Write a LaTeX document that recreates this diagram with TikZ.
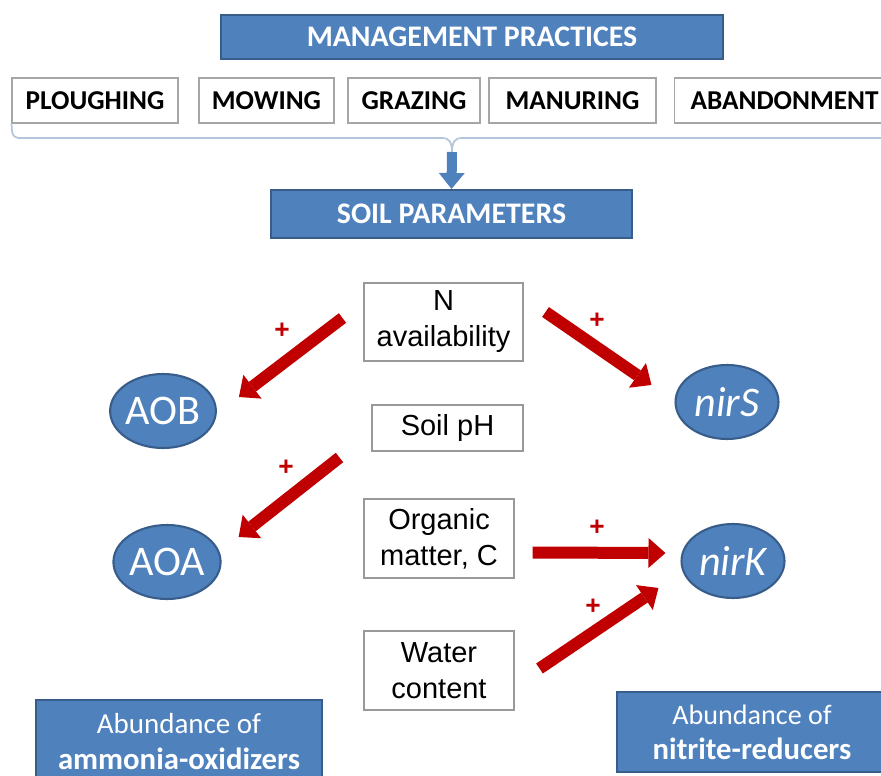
\documentclass[tikz,border=0pt]{standalone}
\usepackage{fontspec}
\setmainfont{Carlito}
\newfontfamily\arialfont{Liberation Sans}
\usetikzlibrary{arrows.meta,calc,shapes.geometric}
\definecolor{boxblue}{HTML}{4F81BD}
\definecolor{edgeblue}{HTML}{385D8A}
\definecolor{arrred}{HTML}{C00000}
\definecolor{bracegrey}{HTML}{B4C6DC}
\begin{document}
\begin{tikzpicture}[x=0.02cm,y=-0.02cm,
    bluebox/.style={draw=edgeblue,fill=boxblue,line width=1.2pt,text=white,inner sep=0pt,align=center},
    practice/.style={draw=gray!70,fill=white,line width=0.6pt,minimum height=0.9cm,inner sep=0pt,font=\fontsize{15.5}{18}\selectfont\bfseries},
    param/.style={draw=gray!80,fill=white,line width=0.6pt,inner sep=0pt,align=center,font=\arialfont\fontsize{16.5}{20.5}\selectfont},
    microbe/.style={ellipse,draw=edgeblue,fill=boxblue,line width=1.2pt,text=white,minimum width=2.06cm,minimum height=1.48cm,inner sep=0pt,font=\fontsize{24}{26}\selectfont},
    effect/.style={draw=arrred,line width=0.24cm,-{Triangle[length=0.34cm,width=0.6cm,line width=0pt]}},
    plus/.style={text=arrred,inner sep=0pt,font=\arialfont\bfseries\fontsize{15}{15}\selectfont}]
    \useasboundingbox (0,0) rectangle (881,776);
    \node[bluebox,minimum width=10.04cm,minimum height=0.88cm,font=\fontsize{17}{20}\selectfont\bfseries] (mgmt) at (472,37) {MANAGEMENT PRACTICES};
    \node[practice,minimum width=3.32cm] (plough) at (95,100.5) {PLOUGHING};
    \node[practice,minimum width=2.7cm] (mow) at (266.5,100.5) {MOWING};
    \node[practice,minimum width=2.64cm] (graze) at (414,100.5) {GRAZING};
    \node[practice,minimum width=3.34cm] (manure) at (572.5,100.5) {MANURING};
    \node[practice,minimum width=4.42cm] (abandon) at (784.5,100.5) {ABANDONMENT};
    \coordinate (btip) at (452,152);
    \draw[bracegrey,line width=1pt] (plough.south west) -- (12,131) to[out=-90,in=180] (19,138) -- (442,138) .. controls (449,138) and (452,142) .. (btip);
    \draw[bracegrey,line width=1pt] (btip) .. controls (452,142) and (455,138) .. (462,138) -- (890,138);
    \node[bluebox,minimum width=7.22cm,minimum height=0.96cm,font=\fontsize{17}{20}\selectfont\bfseries] (soilpar) at (451.5,214) {SOIL PARAMETERS};
    \draw[boxblue,line width=0.2cm,-{Triangle[length=0.32cm,width=0.52cm,line width=0pt]}] (btip) -- (soilpar.north);
    \node[param,minimum width=3.18cm,minimum height=1.56cm] (navail) at (443.5,322) {N\\availability};
    \node[param,minimum width=3.02cm,minimum height=0.92cm] (soilph) at (447.5,428) {Soil pH};
    \node[param,minimum width=3cm,minimum height=1.58cm] (orgmat) at (439,538.5) {Organic\\matter, C};
    \node[param,minimum width=3cm,minimum height=1.58cm] (water) at (439,670.5) {Water\\content};
    \node[microbe] (aob) at (163,411) {AOB};
    \node[microbe] (nirs) at (727,402) {\itshape nirS};
    \node[microbe] (aoa) at (167,562) {AOA};
    \node[microbe] (nirk) at (733,561) {\itshape nirK};
    \draw[effect] ($(navail.west)+(-21,-4)$) -- ($(aob.east)+(22,-14)$);
    \draw[effect] ($(navail.east)+(22,-10)$) -- ($(nirs.west)+(-23,-17)$);
    \draw[effect] ($(soilph.south west)+(-32,6)$) -- ($(aoa.east)+(17,-25)$);
    \draw[effect] ($(orgmat.east)+(18,14)$) -- ($(nirk.west)+(-15,-8)$);
    \draw[effect] ($(water.east)+(25,-2)$) -- ($(nirk.west)+(-22,27)$);
    \node[plus] (p1) at (282,331) {+};
    \node[plus] (p2) at (597,321) {+};
    \node[plus] (p3) at (286,468) {+};
    \node[plus] (p4) at (597,528) {+};
    \node[plus] (p5) at (593,607) {+};
    \node[bluebox,minimum width=5.72cm,minimum height=1.66cm,font=\fontsize{16.5}{20}\selectfont] (ammox) at (179,741.5) {Abundance of\\{\fontsize{17.5}{20}\selectfont\bfseries ammonia-oxidizers}};
    \node[bluebox,minimum width=5.4cm,minimum height=1.6cm,font=\fontsize{16}{20}\selectfont] (nitred) at (752,732) {Abundance of\\{\fontsize{17.5}{20}\selectfont\bfseries nitrite-reducers}};
\end{tikzpicture}
\end{document}
